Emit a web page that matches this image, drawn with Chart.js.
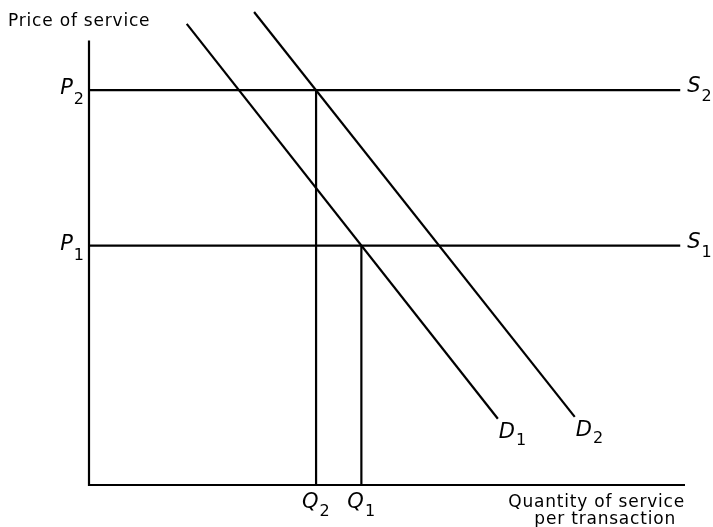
<!DOCTYPE html>
<html lang="en">
<head>
<meta charset="UTF-8">
<title>Price of service</title>
<script src="https://cdn.jsdelivr.net/npm/chart.js"></script>
<style>
  body { margin: 0; background: #fff; }
  canvas { display: block; }
</style>
</head>
<body>
<canvas id="chart" width="713" height="527"></canvas>
<script>
// chart values (arbitrary units, 0..100 on both axes)
const priceLevels = [50.6, 83.5];      // P1, P2
const priceNames = ['1', '2'];
const quantities = [45.7, 38.1];       // Q1 (D1 at P1), Q2 (D2 at P2)
const demand1 = [{x: 16.4, y: 97.5}, {x: 68.6, y: 14.0}];
const demand2 = [{x: 27.7, y: 100}, {x: 81.5, y: 14.4}];
const supplyEnd = 99.2;
const yAxisTop = 94;
const xAxisEnd = 100;

const lineStyle = {
    showLine: true,
    pointRadius: 0,
    borderColor: '#000',
    borderWidth: 2.2,
    fill: false,
    clip: false
};

const datasets = [
    {...lineStyle, data: [{x: 0, y: yAxisTop}, {x: 0, y: 0}, {x: xAxisEnd, y: 0}]},
    {...lineStyle, data: demand1},
    {...lineStyle, data: demand2}
];
priceLevels.forEach(p => {
    datasets.push({...lineStyle, data: [{x: 0, y: p}, {x: supplyEnd, y: p}]});
});
quantities.forEach((q, i) => {
    datasets.push({...lineStyle, data: [{x: q, y: 0}, {x: q, y: priceLevels[i]}]});
});

const mainFont = 'italic 21px "DejaVu Sans"';
const subFont = '16px "DejaVu Sans"';

function labelWidth(ctx, main, sub) {
    ctx.font = mainFont;
    const w = ctx.measureText(main).width;
    ctx.font = subFont;
    return w + 1 + ctx.measureText(sub).width;
}

function label(ctx, x, y, main, sub, dy) {
    ctx.font = mainFont;
    ctx.fillText(main, x, y);
    const w = ctx.measureText(main).width;
    ctx.font = subFont;
    ctx.fillText(sub, x + w + 1, y + dy);
}

const labels = {
    id: 'labels',
    afterDraw(chart) {
        const ctx = chart.ctx;
        const xs = chart.scales.x, ys = chart.scales.y;
        ctx.save();
        ctx.fillStyle = '#000';
        ctx.textAlign = 'left';
        ctx.textBaseline = 'alphabetic';

        priceLevels.forEach((p, i) => {
            const py = ys.getPixelForValue(p);
            const w = labelWidth(ctx, 'P', priceNames[i]);
            label(ctx, xs.getPixelForValue(0) - 5 - w, py + 4, 'P', priceNames[i], 10);
            label(ctx, xs.getPixelForValue(supplyEnd) + 7, py + 2, 'S', priceNames[i], 9);
        });
        quantities.forEach((q, i) => {
            const px = xs.getPixelForValue(q);
            label(ctx, px - 14, ys.getPixelForValue(0) + 23, 'Q', priceNames[i], 8);
        });
        [demand1, demand2].forEach((d, i) => {
            const end = d[d.length - 1];
            label(ctx, xs.getPixelForValue(end.x) + 1, ys.getPixelForValue(end.y) + 19, 'D', priceNames[i], 7);
        });

        ctx.font = '17px "DejaVu Sans"';
        ctx.letterSpacing = '0.8px';
        ctx.fillText('Price of service', 8, 26);
        ctx.textAlign = 'right';
        ctx.fillText('Quantity of service', xs.getPixelForValue(xAxisEnd), 507);
        ctx.fillText('per transaction', xs.getPixelForValue(xAxisEnd) - 9, 524);
        ctx.restore();
    }
};

new Chart(document.getElementById('chart'), {
    type: 'scatter',
    data: {datasets: datasets},
    options: {
        responsive: false,
        animation: false,
        layout: {padding: {left: 89, right: 28, top: 12, bottom: 42}},
        plugins: {legend: {display: false}, tooltip: {enabled: false}},
        scales: {
            x: {type: 'linear', min: 0, max: 100, display: false},
            y: {type: 'linear', min: 0, max: 100, display: false}
        }
    },
    plugins: [labels]
});
</script>
</body>
</html>
